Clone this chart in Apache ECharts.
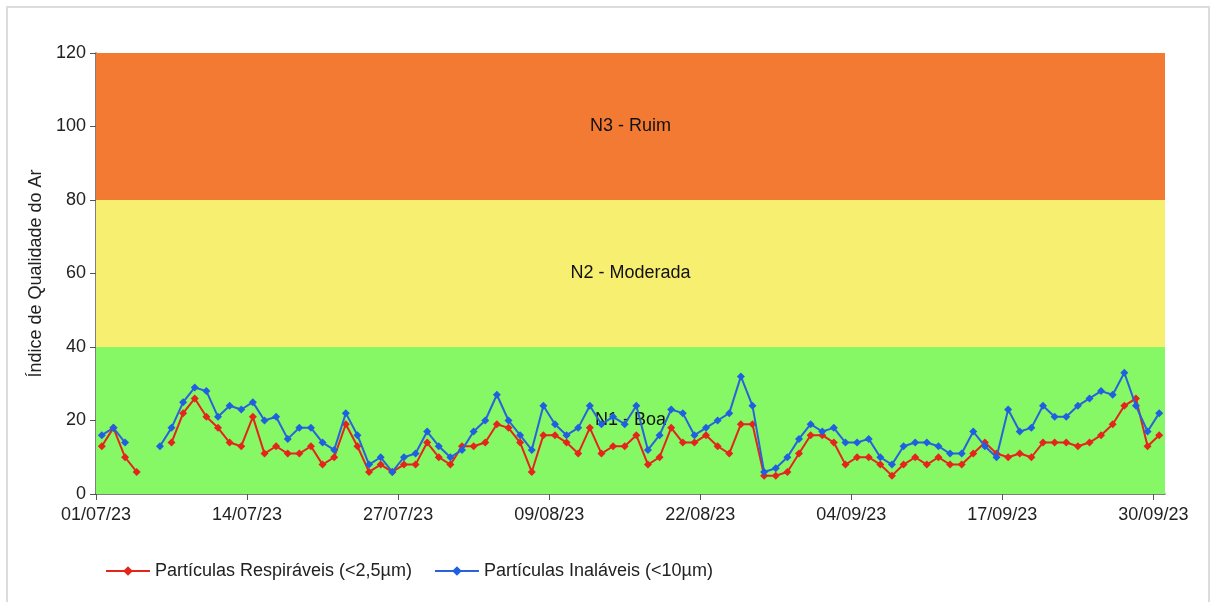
<!DOCTYPE html>
<html>
<head>
<meta charset="utf-8">
<script src="https://cdn.jsdelivr.net/npm/echarts@6/dist/echarts.min.js"></script>
<style>
html,body{margin:0;padding:0;background:#fff;}
#chart{width:1214px;height:602px;}
</style>
</head>
<body>
<div id="chart"></div>
<script>
// Day index 0 = 01/07/23 ... 91 = 30/09/23 (daily values)
const pm25 = [13,18,10,6,null,null,14,22,26,21,18,14,13,21,11,13,11,11,13,8,10,19,13,6,8,6,8,8,14,10,
  8,13,13,14,19,18,14,6,16,16,14,11,18,11,13,13,16,8,10,18,14,14,16,13,11,19,19,5,5,6,
  11,16,16,14,8,10,10,8,5,8,10,8,10,8,8,11,14,11,10,11,10,14,14,14,13,14,16,19,24,26,13,16];
const pm10 = [16,18,14,null,null,13,18,25,29,28,21,24,23,25,20,21,15,18,18,14,12,22,16,8,10,6,10,11,17,13,
  10,12,17,20,27,20,16,12,24,19,16,18,24,19,21,19,24,12,16,23,22,16,18,20,22,32,24,6,7,10,
  15,19,17,18,14,14,15,10,8,13,14,14,13,11,11,17,13,10,23,17,18,24,21,21,24,26,28,27,33,24,17,22];
const tickDays = [0,13,26,39,52,65,78,91];
const tickLabels = ['01/07/23','14/07/23','27/07/23','09/08/23','22/08/23','04/09/23','17/09/23','30/09/23'];
const bands = [
  {from:0, to:40, name:'N1 - Boa', color:'#86F866'},
  {from:40, to:80, name:'N2 - Moderada', color:'#F6EF70'},
  {from:80, to:120, name:'N3 - Ruim', color:'#F37A33'}
];
const seriesNames = ['Partículas Respiráveis (<2,5µm)','Partículas Inaláveis (<10µm)'];

const toPairs = arr => arr.map((v,i)=>[i+0.5, v]);
const font = '"Liberation Sans", Arial, sans-serif';

const chart = echarts.init(document.getElementById('chart'));
chart.setOption({
  animation:false,
  textStyle:{fontFamily:font},
  graphic:[{type:'rect', shape:{x:7,y:7,width:1202,height:600}, style:{fill:'none', stroke:'#dcdcdc', lineWidth:2}, silent:true}],
  grid:{left:96,right:49,top:53,bottom:108},
  legend:{
    left:100, top:557, itemWidth:44, itemHeight:12, itemGap:22,
    textStyle:{fontSize:18,color:'#222',fontFamily:font},
    data:seriesNames
  },
  xAxis:{
    type:'value', min:0, max:92, interval:13,
    axisLine:{show:true,lineStyle:{color:'#555',width:1.5}},
    axisTick:{show:true,length:6,lineStyle:{color:'#555'},customValues:tickDays},
    axisLabel:{fontSize:18,color:'#222',margin:12,customValues:tickDays,
      formatter:v=>{const k=tickDays.indexOf(Math.round(v)); return k>=0?tickLabels[k]:'';}},
    splitLine:{show:false}
  },
  yAxis:{
    type:'value', min:0, max:120, interval:20,
    name:'Índice de Qualidade do Ar', nameLocation:'middle', nameGap:42,
    nameTextStyle:{fontSize:18,color:'#222'},
    axisLine:{show:true,lineStyle:{color:'#555',width:1.5}},
    axisTick:{show:true,length:6,lineStyle:{color:'#555'}},
    axisLabel:{fontSize:18,color:'#222',margin:10},
    splitLine:{show:false}
  },
  series:[
    {
      name:'bands', type:'line', data:[], z:1, silent:true,
      markArea:{silent:true, label:{show:false},
        data:bands.map(b=>[{yAxis:b.from,itemStyle:{color:b.color}},{yAxis:b.to}])}
    },
    {
      name:seriesNames[0], type:'line', data:toPairs(pm25), z:3,
      connectNulls:false, symbol:'diamond', symbolSize:8, showSymbol:true,
      lineStyle:{color:'#E3251C',width:2}, itemStyle:{color:'#E3251C'}
    },
    {
      name:seriesNames[1], type:'line', data:toPairs(pm10), z:4,
      connectNulls:false, symbol:'diamond', symbolSize:8, showSymbol:true,
      lineStyle:{color:'#2A63D8',width:2}, itemStyle:{color:'#1F5FE0'}
    },
    {
      name:'bandLabels', type:'line', data:[], z:10, silent:true,
      markArea:{silent:true,
        itemStyle:{color:'rgba(0,0,0,0)'},
        label:{show:true, position:'inside', fontSize:18, color:'#111', fontFamily:font},
        data:bands.map(b=>[{yAxis:b.from,name:b.name},{yAxis:b.to}])}
    }
  ]
});
</script>
</body>
</html>
